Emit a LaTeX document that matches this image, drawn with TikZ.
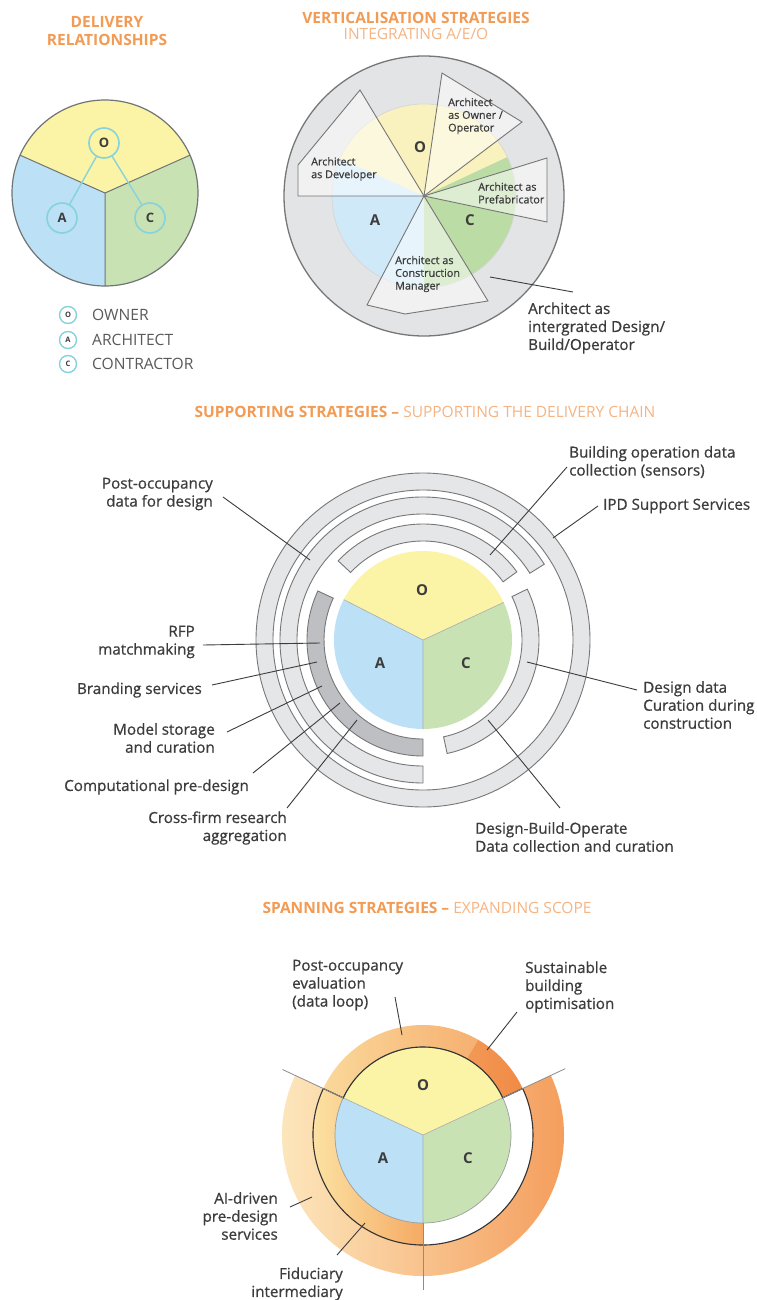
\documentclass[tikz,border=0pt]{standalone}
\usepackage{fontspec}
\setmainfont{Open Sans}
\newfontfamily\semifont[FakeBold=0.7]{Open Sans}
\definecolor{ttlor}{HTML}{F29B55}
\definecolor{ttlorl}{HTML}{F6B483}
\definecolor{txt}{HTML}{3C3C3C}
\definecolor{txtl}{HTML}{5A5A5A}
\definecolor{yelA}{HTML}{FBF4A6}
\definecolor{bluA}{HTML}{BCE0F5}
\definecolor{grnA}{HTML}{C9E2B4}
\definecolor{yelB}{HTML}{FAF2BE}
\definecolor{bluB}{HTML}{D0E9F8}
\definecolor{grnB}{HTML}{BCDCA5}
\definecolor{pieln}{HTML}{6F7474}
\definecolor{tealc}{HTML}{86D3DB}
\definecolor{ringf}{HTML}{E5E6E8}
\definecolor{ringd}{HTML}{BEBFC2}
\definecolor{ringl}{HTML}{777777}
\definecolor{bigg}{HTML}{E3E4E6}
\definecolor{oraA}{HTML}{FDEBC2}
\definecolor{oraB}{HTML}{F49D5C}
\definecolor{oraC}{HTML}{FAD89A}
\definecolor{oraM}{HTML}{F6B070}
\definecolor{oraD}{HTML}{F08A45}
\definecolor{oraE}{HTML}{FCE5A6}
\definecolor{oraF}{HTML}{F5AA64}
\tikzset{
  lbl/.style={font=\semifont\fontsize{15.2}{18}\selectfont, text=txt, inner sep=0pt},
  slbl/.style={font=\semifont\fontsize{10.8}{12.7}\selectfont, text=txt, inner sep=0pt, align=left, anchor=west},
  ttl/.style={font=\bfseries\fontsize{15.5}{18}\selectfont, text=ttlor, inner sep=0pt, align=center},
  ttlr/.style={font=\fontsize{15.5}{18}\selectfont, text=ttlorl, inner sep=0pt, align=center},
  letter/.style={font=\bfseries\fontsize{15}{15}\selectfont, text=txt, inner sep=0pt},
  tagbig/.style={circle, draw=tealc, line width=1.6pt, minimum size=30pt, inner sep=0pt, font=\bfseries\fontsize{13}{13}\selectfont, text=txt},
  tagsm/.style={circle, draw=tealc, line width=1.4pt, minimum size=17pt, inner sep=0pt, font=\bfseries\fontsize{7.5}{7.5}\selectfont, text=txt},
  legtxt/.style={font=\fontsize{15.6}{18}\selectfont, text=txtl, inner sep=0pt, anchor=west},
  sepln/.style={draw=pieln, line width=1pt},
  rimln/.style={draw=pieln, line width=1.2pt},
  tealln/.style={draw=tealc, line width=1.4pt},
  wedge/.style={fill=white, fill opacity=0.5, draw=ringl, line width=0.9pt},
  ringst/.style={fill=ringf, draw=ringl, line width=0.9pt},
  ringdk/.style={fill=ringd, draw=ringl, line width=0.9pt},
  leader/.style={draw=txt, line width=0.9pt},
  radln/.style={draw=black!45, line width=0.8pt},
}
\newcommand{\annseg}[6]{\path[#1] (#2) ++(#5:#4) arc[start angle=#5,end angle=#6,radius=#4] -- ++(#6:{#3-#4}) arc[start angle=#6,end angle=#5,radius=#3] -- cycle;}
\begin{document}
\begin{tikzpicture}[x=1pt,y=1pt]
\useasboundingbox (0,0) rectangle (756,-1300);
\fill[white] (0,0) rectangle (756,-1300);

% ================= PANEL 1 =================
\node[ttl] (t1) at (107,-31) {DELIVERY\\RELATIONSHIPS};
\coordinate (c1) at (105,-193);
\fill[yelA] (c1) -- +(24:93) arc[start angle=24,end angle=156,radius=93] -- cycle;
\fill[bluA] (c1) -- +(156:93) arc[start angle=156,end angle=270,radius=93] -- cycle;
\fill[grnA] (c1) -- +(270:93) arc[start angle=270,end angle=384,radius=93] -- cycle;
\draw[sepln] (c1) -- +(24:93) (c1) -- +(156:93) (c1) -- +(270:93);
\draw[rimln] (c1) circle[radius=93];
\node[tagbig] (o1) at (104,-143) {O};
\node[tagbig] (a1) at (62,-218) {A};
\node[tagbig] (k1) at (150,-218) {C};
\draw[tealln] (o1) -- (a1);
\draw[tealln] (o1) -- (k1);
\node[tagsm] (lo) at (68,-315) {O};
\node[tagsm] (la) at (68,-340) {A};
\node[tagsm] (lc) at (68,-364) {C};
\node[legtxt] (lot) at (92,-315) {OWNER};
\node[legtxt] (lat) at (92,-340) {ARCHITECT};
\node[legtxt] (lct) at (92,-364) {CONTRACTOR};

% ================= PANEL 2 =================
\node[ttl] (t2a) at (416,-18) {VERTICALISATION STRATEGIES};
\node[ttlr] (t2b) at (416,-34) {INTEGRATING A/E/O};
\coordinate (c2) at (424,-196);
\draw[fill=bigg, draw=ringl, line width=1.3pt] (c2) circle[radius=140];
\fill[yelB] (c2) -- +(25:92) arc[start angle=25,end angle=156,radius=92] -- cycle;
\fill[bluB] (c2) -- +(156:92) arc[start angle=156,end angle=270,radius=92] -- cycle;
\fill[grnB] (c2) -- +(270:92) arc[start angle=270,end angle=385,radius=92] -- cycle;
\draw[draw=white!70!ringl, line width=0.7pt] (c2) circle[radius=92];
\path[wedge] (c2) -- (360,-90) -- (298,-165) -- (298,-196) -- cycle;
\path[wedge] (c2) -- (442,-73) -- (522,-122) -- cycle;
\path[wedge] (c2) -- (547,-158) -- (547,-222) -- cycle;
\path[wedge] (c2) -- (367,-305) -- (405,-314) -- (488,-301) -- cycle;
\node[letter] (o2) at (420,-147) {O};
\node[letter] (a2) at (375,-220) {A};
\node[letter] (k2) at (470,-220) {C};
\node[slbl] (w1) at (311,-169) {Architect\\as Developer};
\node[slbl] (w2) at (448,-116) {Architect\\as Owner /\\Operator};
\node[slbl] (w3) at (478,-193) {Architect as\\Prefabricator};
\node[slbl] (w4) at (395,-274) {Architect as\\Construction\\Manager};
\node[lbl, align=left, anchor=west] (w5) at (528,-328) {Architect as\\intergrated Design/\\Build/Operator};
\coordinate (w5a) at (490,-277);
\coordinate (w5b) at (573,-292);
\draw[leader] (w5a) -- (w5b);

% ================= PANEL 3 =================
\node[inner sep=0pt, font=\fontsize{15.5}{18}\selectfont] (t3) at (425,-412) {\textcolor{ttlor}{\bfseries SUPPORTING STRATEGIES –} \textcolor{ttlorl}{SUPPORTING THE DELIVERY CHAIN}};
\coordinate (c3) at (423,-640);
\path[ringst, even odd rule] (c3) circle[radius=167] (c3) circle[radius=150];
\annseg{ringst}{c3}{126}{143}{32}{270}
\annseg{ringst}{c3}{99}{116}{36}{137}
\annseg{ringdk}{c3}{99}{116}{155}{270}
\annseg{ringst}{c3}{99}{116}{-78}{26}
\fill[yelA] (c3) -- +(25:89) arc[start angle=25,end angle=153,radius=89] -- cycle;
\fill[bluA] (c3) -- +(153:89) arc[start angle=153,end angle=270,radius=89] -- cycle;
\fill[grnA] (c3) -- +(270:89) arc[start angle=270,end angle=385,radius=89] -- cycle;
\draw[draw=white!40!pieln, line width=0.6pt] (c3) -- +(25:89) (c3) -- +(153:89) (c3) -- +(270:89);
\node[letter] (o3) at (422,-590) {O};
\node[letter] (a3) at (380,-663) {A};
\node[letter] (k3) at (466,-663) {C};
% labels
\node[lbl, align=right, anchor=east] (s1) at (213,-494) {Post-occupancy\\data for design};
\node[lbl, align=right, anchor=east] (s2) at (195,-642) {RFP\\matchmaking};
\node[lbl, align=right, anchor=east] (s3) at (202,-690) {Branding services};
\node[lbl, align=right, anchor=east] (s4) at (215,-738) {Model storage\\and curation};
\node[lbl, align=right, anchor=east] (s5) at (249,-787) {Computational pre-design};
\node[lbl, align=right, anchor=east] (s6) at (287,-828) {Cross-firm research\\aggregation};
\node[lbl, align=left, anchor=west] (s7) at (569,-462) {Building operation data\\collection (sensors)};
\node[lbl, align=left, anchor=west] (s8) at (603,-506) {IPD Support Services};
\node[lbl, align=left, anchor=west] (s9) at (643,-705) {Design data\\Curation during\\construction};
\node[lbl, align=left, anchor=west] (s10) at (475,-837) {Design-Build-Operate\\Data collection and curation};
\coordinate (s1a) at (223,-497); \coordinate (s1b) at (310,-560);
\coordinate (s2a) at (203,-645); \coordinate (s2b) at (320,-643);
\coordinate (s3a) at (212,-685); \coordinate (s3b) at (317,-662);
\coordinate (s4a) at (227,-732); \coordinate (s4b) at (322,-686);
\coordinate (s5a) at (253,-773); \coordinate (s5b) at (340,-703);
\coordinate (s6a) at (287,-808); \coordinate (s6b) at (357,-720);
\coordinate (s7a) at (567,-467); \coordinate (s7b) at (490,-555);
\coordinate (s8a) at (598,-506); \coordinate (s8b) at (553,-538);
\coordinate (s9a) at (637,-690); \coordinate (s9b) at (527,-662);
\coordinate (s10a) at (560,-808); \coordinate (s10b) at (488,-720);
\foreach \i in {1,...,10} {\draw[leader] (s\i a) -- (s\i b);}

% ================= PANEL 4 =================
\node[inner sep=0pt, font=\fontsize{15.5}{18}\selectfont] (t4) at (427,-908) {\textcolor{ttlor}{\bfseries SPANNING STRATEGIES –} \textcolor{ttlorl}{EXPANDING SCOPE}};
\coordinate (c4) at (423,-1135);
% lower outer ring
\path[left color=oraA, right color=oraB] (c4) ++(155:141) arc[start angle=155,end angle=385,radius=141] -- ++(385:-31) arc[start angle=385,end angle=155,radius=110] -- cycle;
% top band (data loop)
\path[left color=oraC, right color=oraM] (c4) ++(60:110) arc[start angle=60,end angle=155,radius=110] -- ++(155:-22) arc[start angle=155,end angle=60,radius=88] -- cycle;
\path[left color=oraM!70!oraD, right color=oraD] (c4) ++(25:110) arc[start angle=25,end angle=60,radius=110] -- ++(60:-22) arc[start angle=60,end angle=25,radius=88] -- cycle;
% inner fiduciary band
\path[left color=oraE, right color=oraF] (c4) ++(155:110) arc[start angle=155,end angle=270,radius=110] -- ++(270:-22) arc[start angle=270,end angle=155,radius=88] -- cycle;
% pie
\fill[yelA] (c4) -- +(25:88) arc[start angle=25,end angle=155,radius=88] -- cycle;
\fill[bluA] (c4) -- +(155:88) arc[start angle=155,end angle=270,radius=88] -- cycle;
\fill[grnA] (c4) -- +(270:88) arc[start angle=270,end angle=385,radius=88] -- cycle;
\draw[draw=white!40!pieln, line width=0.6pt] (c4) -- +(25:88) (c4) -- +(155:88) (c4) -- +(270:88);
\draw[draw=white!30!pieln, line width=0.7pt] (c4) circle[radius=88];
\draw[draw=black!80, line width=1.1pt] (c4) ++(155:110) arc[start angle=155,end angle=385,radius=110] -- ++(25:-22) arc[start angle=25,end angle=155,radius=88] -- cycle;
\draw[radln] (c4) ++(155:88) -- ++(155:67);
\draw[radln] (c4) ++(25:88) -- ++(25:69);
\draw[radln] (c4) ++(270:88) -- ++(270:67);
\node[letter] (o4) at (423,-1085) {O};
\node[letter] (a4) at (383,-1158) {A};
\node[letter] (k4) at (468,-1158) {C};
\node[lbl, align=left, anchor=west] (p1) at (292,-985) {Post-occupancy\\evaluation\\(data loop)};
\node[lbl, align=left, anchor=west] (p2) at (525,-987) {Sustainable\\building\\optimisation};
\node[lbl, align=right, anchor=east] (p3) at (278,-1216) {AI-driven\\pre-design\\services};
\node[lbl, align=right, anchor=east] (p4) at (343,-1284) {Fiduciary\\intermediary};
\coordinate (p1a) at (395,-997); \coordinate (p1b) at (402,-1035);
\coordinate (p2a) at (517,-1012); \coordinate (p2b) at (487,-1050);
\coordinate (p3a) at (290,-1207); \coordinate (p3b) at (312,-1197);
\coordinate (p4a) at (337,-1255); \coordinate (p4b) at (365,-1223);
\foreach \i in {1,...,4} {\draw[leader] (p\i a) -- (p\i b);}
\end{tikzpicture}
\end{document}
